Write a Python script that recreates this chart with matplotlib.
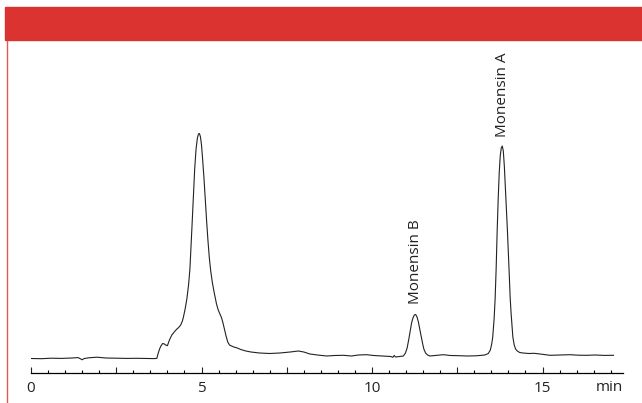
import matplotlib
matplotlib.use("Agg")
import matplotlib.pyplot as plt
from matplotlib.patches import Rectangle
from matplotlib.lines import Line2D
from matplotlib.ticker import FixedLocator, MultipleLocator

# ==================================================
# Data (time in min, signal in a.u.)
# ==================================================

time_min = [
    0.00, 0.30, 0.60, 0.90, 1.20, 1.38, 1.44, 1.50, 1.56, 1.70, 1.93, 2.20,
    2.50, 2.80, 3.10, 3.40, 3.60, 3.69, 3.73, 3.77, 3.81, 3.86, 3.90, 3.95,
    4.00, 4.06, 4.13, 4.20, 4.27, 4.33, 4.39, 4.44, 4.47, 4.52, 4.57, 4.62,
    4.66, 4.69, 4.72, 4.76, 4.80, 4.84, 4.88, 4.91, 4.94, 4.97, 5.00, 5.03,
    5.07, 5.11, 5.15, 5.19, 5.23, 5.27, 5.32, 5.38, 5.44, 5.49, 5.54, 5.59,
    5.63, 5.67, 5.72, 5.77, 5.82, 5.88, 5.95, 6.05, 6.15, 6.30, 6.45, 6.70,
    7.00, 7.30, 7.60, 7.84, 8.00, 8.18, 8.40, 8.67, 8.90, 9.16, 9.40, 9.60,
    9.84, 10.05, 10.33, 10.55, 10.61, 10.65, 10.69, 10.80, 10.92, 10.98, 11.03, 11.08,
    11.12, 11.16, 11.20, 11.24, 11.28, 11.32, 11.36, 11.40, 11.44, 11.48, 11.52, 11.57,
    11.63, 11.70, 11.85, 12.09, 12.30, 12.55, 12.78, 13.05, 13.31, 13.41, 13.47, 13.51,
    13.54, 13.58, 13.61, 13.64, 13.67, 13.70, 13.73, 13.76, 13.79, 13.82, 13.85, 13.88,
    13.91, 13.94, 13.97, 14.00, 14.03, 14.05, 14.08, 14.11, 14.13, 14.17, 14.21, 14.26,
    14.33, 14.43, 14.60, 14.75, 14.93, 15.22, 15.50, 15.81, 16.05, 16.30, 16.55, 16.80,
    17.08,
]

signal = [
    0.5, 0.3, 0.8, 0.6, 1.0, 1.4, 0.4, -0.8, 0.5, 1.2, 1.8, 1.0,
    0.8, 0.6, 0.7, 0.5, 0.4, 0.6, 5.7, 10.0, 13.0, 15.5, 15.2, 14.0,
    13.3, 19.0, 24.0, 27.0, 29.7, 31.5, 34.0, 38.0, 42.0, 50.0, 60.0, 74.0,
    90.0, 110.0, 132.0, 162.0, 190.0, 210.0, 221.0, 225.0, 225.5, 222.0, 214.0, 201.0,
    182.0, 160.0, 138.0, 118.0, 101.0, 88.0, 76.0, 65.0, 55.0, 49.0, 45.0, 41.0,
    36.0, 30.0, 23.0, 17.0, 14.0, 13.0, 12.0, 11.0, 9.5, 8.0, 7.0, 6.0,
    5.5, 6.0, 7.0, 8.0, 7.0, 5.0, 4.0, 3.0, 3.5, 3.7, 3.0, 4.0,
    4.3, 3.5, 3.0, 2.5, 1.7, 3.5, 2.0, 2.5, 3.0, 6.0, 11.0, 20.0,
    28.0, 36.0, 41.0, 44.0, 44.5, 42.0, 37.0, 30.0, 23.0, 16.0, 10.0, 6.0,
    4.0, 3.0, 3.5, 4.3, 3.5, 3.3, 3.0, 3.2, 4.0, 5.5, 9.0, 15.0,
    22.0, 40.0, 60.0, 90.0, 128.0, 160.0, 186.0, 203.0, 211.0, 213.0, 208.0, 193.0,
    172.0, 152.0, 129.0, 105.0, 80.0, 62.0, 45.0, 31.0, 22.0, 14.0, 10.0, 8.0,
    6.5, 6.0, 5.5, 5.7, 5.0, 3.7, 4.0, 4.3, 3.8, 3.7, 4.0, 3.6,
    3.7,
]

peak_labels = ["Monensin B", "Monensin A"]
peak_label_times = [11.28, 13.82]
peak_label_heights = [55, 222]

tick_labels = ["0", "", "5", "", "10", "", "15"]

# ==================================================
# Figure layout
# ==================================================

W, H = 642, 403
fig = plt.figure(figsize=(W / 100, H / 100), dpi=100)
plt.rcParams["font.family"] = ["Open Sans", "DejaVu Sans"]

# red banner and thin red rule on the left
fig.patches.append(Rectangle((5 / W, 1 - 40 / H), 1 - 5 / W, 33 / H,
                             transform=fig.transFigure, color="#db3430", zorder=0))
fig.lines.append(Line2D([6.5 / W, 6.5 / W], [0, 1 - 41 / H],
                        transform=fig.transFigure, color="#e05a55", lw=1.0))

ax_left, ax_right = 31, 623
ax_bottom, ax_top = 373, 45
ax = fig.add_axes([ax_left / W, 1 - ax_bottom / H,
                   (ax_right - ax_left) / W, (ax_bottom - ax_top) / H])

ax.plot(time_min, signal, color="#222222", lw=0.8)

ax.set_xlim(0, 17.36)
ax.set_ylim(-14, 314)

for side in ["left", "top", "right"]:
    ax.spines[side].set_visible(False)
ax.spines["bottom"].set_linewidth(0.9)
ax.set_yticks([])

ax.xaxis.set_major_locator(FixedLocator([0, 2.5, 5, 7.5, 10, 12.5, 15]))
ax.xaxis.set_minor_locator(MultipleLocator(0.5))
ax.set_xticklabels(tick_labels, fontsize=11)
ax.tick_params(axis="x", which="major", direction="in", length=4.5, width=0.8,
               pad=6, colors="#222222")
ax.tick_params(axis="x", which="minor", direction="in", length=2.2, width=0.8)

# unit label at the right end of the axis
ax.text(17.36, -21, "min", fontsize=11, ha="right", va="top", color="#222222")

for lab, t, h in zip(peak_labels, peak_label_times, peak_label_heights):
    ax.text(t, h, lab, rotation=90, ha="center", va="bottom", fontsize=11,
            color="#222222")

fig.savefig("out.png", dpi=100)
